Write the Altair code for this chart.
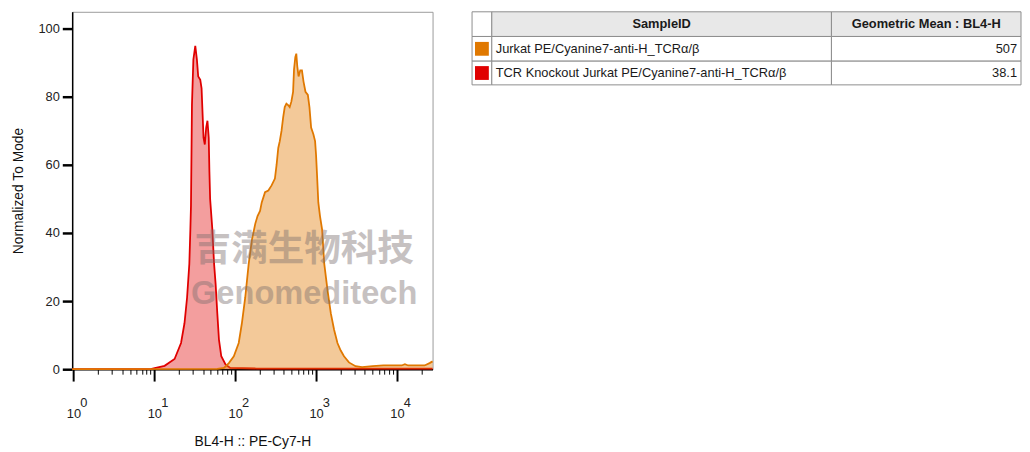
import altair as alt
import pandas as pd

# ---------------- data ----------------
# TCR Knockout Jurkat (red) : BL4-H intensity, normalized-to-mode
red_x = [0.964, 9.0, 10.1, 13.4, 17.8, 21.4, 23.6, 25.4, 27.1, 27.9, 28.4, 29.2, 30.4,
         32.1, 33.6, 34.9, 37.0, 38.4, 40.6, 42.1, 43.8, 45.4, 47.1, 48.0, 49.0,
         52.2, 54.8, 57.3, 60.1, 63.0, 67.3, 75.9, 86.7, 185, 1000, 27600]
red_y = [0, 0, 0.3, 1.0, 3.0, 7.7, 13.5, 21, 31, 41, 48, 77.6, 91,
         95, 91, 86, 85, 82.5, 68, 66, 71, 73, 68, 58, 50,
         41, 31, 25, 16.4, 8.7, 3.8, 1.4, 0.4, 0.2, 0.2, 0.2]

# Jurkat (orange)
orange_x = [0.964, 60, 72.6, 83.5, 96.2, 110.6, 121, 133, 147, 161, 177, 189, 203, 213,
            234, 257, 282, 310, 325, 341, 356, 374, 392, 410, 430, 451, 472, 495,
            520, 534, 554, 570, 586, 608, 638, 669, 700, 740, 792, 829, 869, 927,
            973, 1000, 1029, 1067, 1119, 1189, 1263, 1390, 1524, 1672, 1840, 2019,
            2217, 2553, 3078, 3715, 5000, 6826, 11450, 12560, 13770, 22000, 25350, 27600]
orange_y = [0, 0.1, 0.4, 1.8, 3.8, 7.7, 13.5, 21, 31, 38, 42.7, 45, 46.5, 49,
            52, 52.5, 54, 56, 60, 65, 67, 70, 74, 77, 78, 77.6, 77, 78.6,
            81.5, 88, 91.7, 92.7, 89, 86, 87.8, 87.8, 84.5, 81.5, 80.6, 77, 71, 69,
            67, 63, 57, 49, 45, 41, 31, 23, 16.4, 11.6, 7.7, 5.5,
            3.8, 2.0, 0.9, 0.6, 0.9, 1.1, 1.1, 1.5, 1.1, 1.1, 1.8, 2.3]

sample_ids = ["Jurkat PE/Cyanine7-anti-H_TCRα/β",
              "TCR Knockout Jurkat PE/Cyanine7-anti-H_TCRα/β"]
geo_means = ["507", "38.1"]
sample_colors = ["#e07800", "#e00000"]
table_headers = ["", "SampleID", "Geometric Mean : BL4-H"]
decades = [1, 10, 100, 1000, 10000]

x_title = "BL4-H :: PE-Cy7-H"
y_title = "Normalized To Mode"
watermark_cn = "吉满生物科技"
watermark_en = "Genomeditech"

# ---------------- layout constants ----------------
FONT = "Liberation Sans"
X_DOMAIN = [0.964, 27600]
Y_DOMAIN = [0, 105]
PLOT_W, PLOT_H = 365, 362
COL_EDGES = [0, 20, 364, 556]
ROW_EDGES = [0, 25, 50, 74]

# ---------------- histogram ----------------
red_df = pd.DataFrame({"x": red_x, "y": red_y})
orange_df = pd.DataFrame({"x": orange_x, "y": orange_y})
dec_df = pd.DataFrame({"x": decades, "y": [0] * len(decades)})

x_ticks = [k * 10 ** e for e in range(0, 5) for k in range(1, 10) if k * 10 ** e <= X_DOMAIN[1]]
y_ticks = list(range(0, 106, 5))
is_dec = "indexof([1,10,100,1000,10000], datum.value) >= 0"

x_scale = alt.Scale(type="log", domain=X_DOMAIN, nice=False)
x_main = alt.X("x:Q", scale=x_scale,
               axis=alt.Axis(
                   values=x_ticks, labelExpr=f"{is_dec} ? '10' : ''", title=x_title,
                   grid=False, domainColor="#000", domainWidth=1.5,
                   tickColor="#000",
                   tickSize={"condition": {"test": is_dec, "value": 12}, "value": 5},
                   tickWidth={"condition": {"test": is_dec, "value": 2}, "value": 1},
                   labelFont=FONT, labelFontSize=13, labelColor="#222",
                   labelPadding=27, labelBaseline="top",
                   labelFlush=False, labelOverlap=False,
                   titleFont=FONT, titleFontSize=14, titleFontWeight="normal",
                   titleColor="#111", titlePadding=14))
x_exp = alt.X("x:Q", scale=x_scale,
              axis=alt.Axis(
                  orient="bottom", values=decades,
                  labelExpr="format(log(datum.value)/LN10, '.0f')", title=None,
                  grid=False, domain=False, ticks=False, tickSize=0,
                  labelFont=FONT, labelFontSize=13, labelColor="#222",
                  labelPadding=28, labelBaseline="top", labelAlign="center", labelOffset=10,
                  labelFlush=False, labelOverlap=False))
x_none = alt.X("x:Q", scale=x_scale, axis=None)

y_scale = alt.Scale(domain=Y_DOMAIN, nice=False, zero=False)
y_enc = alt.Y("y:Q", scale=y_scale,
              axis=alt.Axis(
                  values=y_ticks, labelExpr="datum.value % 20 === 0 ? datum.value : ''",
                  title=y_title, grid=False, domainColor="#000", domainWidth=1.5,
                  tickColor="#000",
                  tickSize={"condition": {"test": "datum.value % 20 === 0", "value": 10}, "value": 4},
                  tickWidth={"condition": {"test": "datum.value % 20 === 0", "value": 2.5}, "value": 1},
                  labelFont=FONT, labelFontSize=13, labelColor="#222", labelPadding=3,
                  labelFlush=False, labelOverlap=False,
                  titleFont=FONT, titleFontSize=14, titleFontWeight="normal",
                  titleColor="#111", titlePadding=13))

red_area = alt.Chart(red_df).mark_area(color=sample_colors[1], opacity=0.38).encode(x=x_main, y=y_enc)
red_line = alt.Chart(red_df).mark_line(color=sample_colors[1], strokeWidth=1.8).encode(x=x_none, y="y:Q")
orange_area = alt.Chart(orange_df).mark_area(color=sample_colors[0], opacity=0.4).encode(x=x_none, y="y:Q")
orange_line = alt.Chart(orange_df).mark_line(color=sample_colors[0], strokeWidth=1.8).encode(x=x_none, y="y:Q")
exp_layer = alt.Chart(dec_df).mark_point(opacity=0).encode(x=x_exp, y="y:Q")

wm_cn_df = pd.DataFrame({"x": [713], "y": [35.0], "t": [watermark_cn]})
wm_en_df = pd.DataFrame({"x": [713], "y": [22.0], "t": [watermark_en]})
wm_cn = alt.Chart(wm_cn_df).mark_text(font="Noto Sans CJK SC", fontWeight="bold", fontSize=37,
                                       color="#7a6e6e", opacity=0.42).encode(
    x=x_none, y="y:Q", text="t:N")
wm_en = alt.Chart(wm_en_df).mark_text(font=FONT, fontWeight="bold", fontSize=33,
                                       color="#7a6e6e", opacity=0.42).encode(
    x=x_none, y="y:Q", text="t:N")

hist = alt.layer(red_area, red_line, orange_area, orange_line, wm_cn, wm_en, exp_layer).resolve_axis(
    x="independent").properties(
    width=PLOT_W, height=PLOT_H, view=alt.ViewBackground(stroke="#9a9a9a", strokeWidth=1))

# ---------------- table ----------------
cells = []
for r in range(3):
    for c in range(3):
        fill = "#e8e8e8" if (r == 0 and c > 0) else "#ffffff"
        cells.append({"x": COL_EDGES[c], "x2": COL_EDGES[c + 1],
                      "y": ROW_EDGES[r], "y2": ROW_EDGES[r + 1], "fill": fill})
cells_df = pd.DataFrame(cells)

tx = alt.Scale(domain=[COL_EDGES[0], COL_EDGES[-1]], nice=False, zero=False)
ty = alt.Scale(domain=[ROW_EDGES[0], ROW_EDGES[-1]], nice=False, zero=False, reverse=True)

cell_layer = alt.Chart(cells_df).mark_rect(stroke="#8c8c8c", strokeWidth=1).encode(
    x=alt.X("x:Q", scale=tx, axis=None), x2="x2:Q",
    y=alt.Y("y:Q", scale=ty, axis=None), y2="y2:Q",
    fill=alt.Fill("fill:N", scale=None))

row_mid = [(ROW_EDGES[i + 1] + ROW_EDGES[i + 2]) / 2 for i in range(2)]
sw_df = pd.DataFrame({"x": [3, 3], "x2": [17, 17],
                      "y": [m - 7 for m in row_mid], "y2": [m + 7 for m in row_mid],
                      "c": sample_colors})
swatches = alt.Chart(sw_df).mark_rect().encode(
    x=alt.X("x:Q", scale=tx), x2="x2:Q", y=alt.Y("y:Q", scale=ty), y2="y2:Q",
    fill=alt.Fill("c:N", scale=None))

hdr_df = pd.DataFrame({"x": [(COL_EDGES[1] + COL_EDGES[2]) / 2, (COL_EDGES[2] + COL_EDGES[3]) / 2],
                       "y": [(ROW_EDGES[0] + ROW_EDGES[1]) / 2] * 2,
                       "t": table_headers[1:]})
hdr_text = alt.Chart(hdr_df).mark_text(font=FONT, fontSize=13, fontWeight="bold",
                                        color="#1a1a1a", align="center", baseline="middle").encode(
    x=alt.X("x:Q", scale=tx), y=alt.Y("y:Q", scale=ty), text="t:N")

name_df = pd.DataFrame({"x": [COL_EDGES[1] + 4] * 2, "y": row_mid, "t": sample_ids})
name_text = alt.Chart(name_df).mark_text(font=FONT, fontSize=13, color="#1a1a1a",
                                          align="left", baseline="middle").encode(
    x=alt.X("x:Q", scale=tx), y=alt.Y("y:Q", scale=ty), text="t:N")
val_df = pd.DataFrame({"x": [COL_EDGES[3] - 4] * 2, "y": row_mid, "t": geo_means})
val_text = alt.Chart(val_df).mark_text(font=FONT, fontSize=13, color="#1a1a1a",
                                        align="right", baseline="middle").encode(
    x=alt.X("x:Q", scale=tx), y=alt.Y("y:Q", scale=ty), text="t:N")

table = alt.layer(cell_layer, swatches, hdr_text, name_text, val_text).properties(
    width=COL_EDGES[-1], height=ROW_EDGES[-1],
    view=alt.ViewBackground(stroke="transparent"))

chart = alt.hconcat(hist, table, spacing=34).properties(
    padding={"left": 2, "top": 0, "right": 0, "bottom": 0},
    background="white"
).configure_view(stroke="transparent").resolve_scale(x="independent", y="independent")

chart.save("out.html", embed_options={"renderer": "svg", "actions": False})
